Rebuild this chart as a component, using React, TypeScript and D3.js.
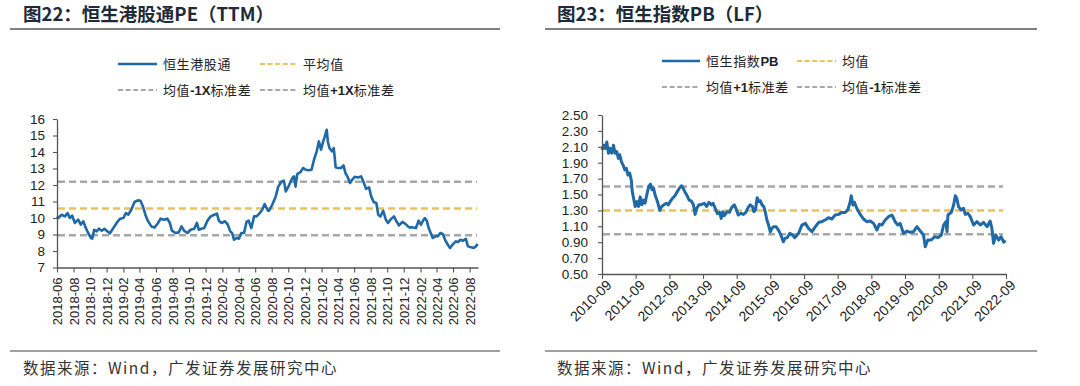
import { useEffect, useRef } from 'react'
import * as d3 from 'd3'

// 恒生港股通PE（TTM）
const peDates = [
  '2018-06-01', '2018-06-06', '2018-06-18', '2018-07-01', '2018-07-10', '2018-07-18', '2018-07-27', '2018-08-06',
  '2018-08-18', '2018-08-28', '2018-09-06', '2018-09-15', '2018-09-24', '2018-10-04', '2018-10-09', '2018-10-16',
  '2018-10-25', '2018-11-03', '2018-11-13', '2018-11-23', '2018-12-01', '2018-12-13', '2018-12-26', '2019-01-07',
  '2019-01-20', '2019-02-01', '2019-02-10', '2019-02-19', '2019-03-02', '2019-03-14', '2019-03-26', '2019-04-05',
  '2019-04-14', '2019-04-23', '2019-05-02', '2019-05-15', '2019-05-27', '2019-06-09', '2019-06-18', '2019-07-01',
  '2019-07-13', '2019-07-22', '2019-07-30', '2019-08-12', '2019-08-24', '2019-09-03', '2019-09-13', '2019-09-25',
  '2019-10-07', '2019-10-20', '2019-10-30', '2019-11-06', '2019-11-16', '2019-11-26', '2019-12-08', '2019-12-20',
  '2020-01-02', '2020-01-12', '2020-01-19', '2020-01-29', '2020-02-11', '2020-02-21', '2020-03-01', '2020-03-08',
  '2020-03-15', '2020-03-24', '2020-04-02', '2020-04-11', '2020-04-21', '2020-04-30', '2020-05-08', '2020-05-18',
  '2020-05-28', '2020-06-06', '2020-06-18', '2020-06-27', '2020-07-06', '2020-07-18', '2020-07-22', '2020-08-03',
  '2020-08-16', '2020-08-25', '2020-09-06', '2020-09-15', '2020-09-22', '2020-10-04', '2020-10-16', '2020-10-22',
  '2020-10-28', '2020-11-03', '2020-11-15', '2020-11-25', '2020-12-04', '2020-12-17', '2020-12-26', '2021-01-04',
  '2021-01-14', '2021-01-22', '2021-01-30', '2021-02-07', '2021-02-13', '2021-02-20', '2021-02-24', '2021-03-02',
  '2021-03-11', '2021-03-18', '2021-03-25', '2021-04-02', '2021-04-14', '2021-04-23', '2021-04-30', '2021-05-09',
  '2021-05-17', '2021-05-25', '2021-06-03', '2021-06-15', '2021-06-27', '2021-07-05', '2021-07-15', '2021-07-26',
  '2021-08-03', '2021-08-12', '2021-08-22', '2021-08-29', '2021-09-06', '2021-09-16', '2021-09-26', '2021-10-04',
  '2021-10-13', '2021-10-26', '2021-11-04', '2021-11-14', '2021-11-26', '2021-12-08', '2021-12-21', '2022-01-03',
  '2022-01-15', '2022-01-25', '2022-02-02', '2022-02-09', '2022-02-17', '2022-02-24', '2022-03-03', '2022-03-12',
  '2022-03-18', '2022-03-29', '2022-04-06', '2022-04-15', '2022-04-24', '2022-05-04', '2022-05-13', '2022-05-21',
  '2022-06-01', '2022-06-11', '2022-06-19', '2022-06-28', '2022-07-08', '2022-07-18', '2022-07-26', '2022-08-07',
  '2022-08-16', '2022-08-24', '2022-08-31',
]
const peValues = [
  10.1, 10.0, 10.2, 10.1, 10.3, 10.0, 10.14, 9.7,
  9.9, 9.6, 9.8, 9.4, 9.09, 8.8, 8.75, 9.29,
  9.19, 9.35, 9.23, 9.35, 9.23, 9.07, 9.39, 9.7,
  9.96, 10.0, 10.3, 10.2, 10.5, 10.97, 11.07, 11.05,
  10.7, 10.2, 9.84, 9.49, 9.43, 9.7, 9.96, 9.9,
  9.96, 9.7, 9.23, 9.09, 9.13, 9.49, 9.23, 9.09,
  9.29, 9.35, 9.7, 9.29, 9.35, 9.39, 9.84, 10.1,
  10.2, 10.26, 9.84, 9.7, 9.8, 9.6, 9.19, 9.09,
  8.68, 8.79, 8.75, 9.09, 9.09, 9.76, 9.84, 9.39,
  10.1, 10.1, 10.3, 10.5, 10.85, 10.44, 10.44, 10.8,
  11.31, 11.9, 12.2, 12.26, 11.61, 11.98, 12.42, 12.52,
  11.9, 12.66, 12.78, 13.03, 12.93, 12.89, 12.93, 13.53,
  14.04, 14.64, 14.14, 14.64, 14.95, 15.35, 14.64, 14.24,
  14.04, 14.24, 13.07, 13.03, 13.03, 13.19, 12.72, 12.46,
  12.12, 12.32, 12.5, 12.46, 12.52, 12.22, 11.77, 11.86,
  11.31, 10.97, 10.91, 10.2, 10.1, 10.44, 9.9, 9.7,
  9.9, 10.1, 9.8, 9.55, 9.76, 9.63, 9.43, 9.43,
  9.39, 9.84, 9.59, 9.8, 10.0, 9.84, 9.39, 9.03,
  8.79, 8.89, 8.89, 9.09, 9.03, 8.62, 8.38, 8.18,
  8.42, 8.58, 8.54, 8.68, 8.62, 8.74, 8.28, 8.22,
  8.18, 8.28, 8.42,
]
const peYTicks = [7, 8, 9, 10, 11, 12, 13, 14, 15, 16]
const peXTicks = [
  '2018-06', '2018-08', '2018-10', '2018-12', '2019-02', '2019-04', '2019-06', '2019-08', '2019-10',
  '2019-12', '2020-02', '2020-04', '2020-06', '2020-08', '2020-10', '2020-12', '2021-02', '2021-04',
  '2021-06', '2021-08', '2021-10', '2021-12', '2022-02', '2022-04', '2022-06', '2022-08',
]
const peMean = 10.58
const peUpper = 12.2
const peLower = 8.96

// 恒生指数PB（LF）
const pbDates = [
  '2010-09-01', '2010-09-18', '2010-10-06', '2010-10-23', '2010-11-10', '2010-11-28', '2010-12-16', '2011-01-03',
  '2011-01-21', '2011-02-08', '2011-02-26', '2011-03-13', '2011-03-31', '2011-04-18', '2011-05-06', '2011-05-23',
  '2011-06-10', '2011-06-28', '2011-07-16', '2011-07-26', '2011-08-10', '2011-08-27', '2011-09-15', '2011-10-02',
  '2011-10-20', '2011-11-07', '2011-11-25', '2011-12-12', '2011-12-30', '2012-01-21', '2012-02-08', '2012-02-26',
  '2012-03-13', '2012-03-31', '2012-04-25', '2012-05-20', '2012-06-10', '2012-07-05', '2012-07-30', '2012-08-21',
  '2012-09-15', '2012-10-10', '2012-10-31', '2012-11-25', '2012-12-19', '2013-01-10', '2013-01-24', '2013-02-15',
  '2013-03-10', '2013-04-04', '2013-04-25', '2013-05-20', '2013-06-07', '2013-06-25', '2013-07-19', '2013-08-17',
  '2013-09-15', '2013-10-09', '2013-11-04', '2013-12-02', '2013-12-19', '2014-01-14', '2014-02-04', '2014-03-01',
  '2014-03-17', '2014-04-04', '2014-04-21', '2014-05-20', '2014-06-14', '2014-07-08', '2014-08-06', '2014-08-24',
  '2014-09-18', '2014-10-16', '2014-11-14', '2014-12-09', '2015-01-03', '2015-01-24', '2015-02-18', '2015-03-06',
  '2015-03-24', '2015-04-11', '2015-04-29', '2015-05-16', '2015-06-03', '2015-06-21', '2015-07-08', '2015-07-26',
  '2015-08-13', '2015-09-01', '2015-09-18', '2015-10-05', '2015-11-03', '2015-11-28', '2015-12-22', '2016-01-20',
  '2016-02-07', '2016-03-02', '2016-03-31', '2016-04-28', '2016-05-23', '2016-06-17', '2016-07-04', '2016-08-09',
  '2016-09-15', '2016-10-20', '2016-11-26', '2017-01-02', '2017-02-07', '2017-03-13', '2017-04-18', '2017-05-24',
  '2017-06-29', '2017-08-05', '2017-09-11', '2017-10-16', '2017-11-22', '2017-12-20', '2018-01-15', '2018-01-26',
  '2018-02-14', '2018-03-02', '2018-03-27', '2018-05-03', '2018-06-08', '2018-07-14', '2018-08-20', '2018-09-25',
  '2018-11-01', '2018-11-26', '2018-12-25', '2019-01-30', '2019-03-06', '2019-04-12', '2019-05-17', '2019-06-16',
  '2019-07-10', '2019-08-16', '2019-09-22', '2019-10-27', '2019-12-03', '2020-01-09', '2020-02-14', '2020-03-20',
  '2020-04-08', '2020-05-06', '2020-06-12', '2020-07-18', '2020-08-24', '2020-09-29', '2020-10-24', '2020-11-19',
  '2020-11-30', '2020-12-10', '2021-01-16', '2021-02-10', '2021-02-28', '2021-03-16', '2021-04-04', '2021-05-02',
  '2021-05-28', '2021-06-16', '2021-07-14', '2021-08-09', '2021-09-15', '2021-10-20', '2021-11-26', '2022-01-01',
  '2022-02-07', '2022-03-13', '2022-04-01', '2022-04-19', '2022-05-13', '2022-06-13', '2022-07-10', '2022-08-07',
  '2022-08-28',
]
const pbValues = [
  2.06, 2.12, 2.08, 2.16, 2.02, 2.08, 2.02, 2.12,
  2.02, 2.04, 1.955, 2.0, 1.91, 1.87, 1.81, 1.83,
  1.745, 1.77, 1.68, 1.54, 1.45, 1.35, 1.41, 1.35,
  1.47, 1.37, 1.43, 1.39, 1.49, 1.6, 1.63, 1.56,
  1.58, 1.49, 1.41, 1.3, 1.35, 1.37, 1.39, 1.37,
  1.42, 1.46, 1.485, 1.535, 1.58, 1.61, 1.59, 1.535,
  1.49, 1.43, 1.42, 1.37, 1.25, 1.325, 1.37, 1.375,
  1.39, 1.35, 1.4, 1.37, 1.39, 1.32, 1.26, 1.275,
  1.2, 1.284, 1.233, 1.284, 1.275, 1.335, 1.37, 1.325,
  1.242, 1.263, 1.25, 1.275, 1.335, 1.37, 1.35, 1.284,
  1.305, 1.46, 1.41, 1.42, 1.37, 1.35, 1.284, 1.18,
  1.116, 1.03, 1.074, 1.095, 1.095, 1.053, 0.999, 0.906,
  0.948, 0.957, 1.011, 0.99, 0.957, 0.99, 1.011, 1.116,
  1.137, 1.074, 1.032, 1.095, 1.15, 1.158, 1.179, 1.208,
  1.192, 1.242, 1.25, 1.275, 1.275, 1.305, 1.41, 1.485,
  1.367, 1.401, 1.326, 1.25, 1.192, 1.158, 1.166, 1.137,
  1.053, 1.124, 1.116, 1.179, 1.221, 1.242, 1.158, 1.116,
  1.137, 1.011, 1.04, 1.024, 1.032, 1.095, 1.04, 0.99,
  0.843, 0.927, 0.927, 0.969, 0.957, 0.99, 1.116, 1.158,
  1.032, 1.242, 1.275, 1.368, 1.485, 1.452, 1.347, 1.305,
  1.326, 1.25, 1.263, 1.221, 1.116, 1.158, 1.116, 1.15,
  1.095, 1.166, 1.074, 0.885, 0.99, 0.927, 0.969, 0.9,
  0.92,
]
const pbYTicks = [0.5, 0.7, 0.9, 1.1, 1.3, 1.5, 1.7, 1.9, 2.1, 2.3, 2.5]
const pbXTicks = [
  '2010-09', '2011-09', '2012-09', '2013-09', '2014-09', '2015-09', '2016-09',
  '2017-09', '2018-09', '2019-09', '2020-09', '2021-09', '2022-09',
]
const pbMean = 1.3
const pbUpper = 1.6
const pbLower = 1.0

const BLUE = '#1f69a6'
const GOLD = '#e8c25c'
const GREY = '#a8a8a8'
const CJK = '"Noto Sans CJK SC", sans-serif'
const LATIN = '"Liberation Sans", Arial, sans-serif'

const parseDay = d3.timeParse('%Y-%m-%d')
const parseMonth = d3.timeParse('%Y-%m')

function drawPanel(svg, cfg) {
  const g = svg.append('g')

  // title and rules
  g.append('text')
    .attr('x', cfg.titleX).attr('y', 21)
    .attr('font-family', CJK).attr('font-weight', 700).attr('font-size', 18.5)
    .attr('fill', '#1e2a38')
    .text(cfg.title)
  g.append('line')
    .attr('x1', cfg.ruleX0).attr('x2', cfg.ruleX1).attr('y1', 29).attr('y2', 29)
    .attr('stroke', '#808080').attr('stroke-width', 2)
  g.append('line')
    .attr('x1', cfg.ruleX0).attr('x2', cfg.ruleX1).attr('y1', 351).attr('y2', 351)
    .attr('stroke', '#808080').attr('stroke-width', 1.5)
  g.append('text')
    .attr('x', cfg.titleX).attr('y', 374)
    .attr('font-family', CJK).attr('font-size', 15.5).attr('letter-spacing', 1.5)
    .attr('fill', '#333')
    .text('数据来源：Wind，广发证券发展研究中心')

  // legend
  cfg.legend.forEach(item => {
    const sample = g.append('line')
      .attr('x1', item.x).attr('x2', item.x + item.w)
      .attr('y1', item.y).attr('y2', item.y)
      .attr('stroke', item.color).attr('stroke-width', item.dashed ? 2 : 2.5)
    if (item.dashed) sample.attr('stroke-dasharray', '5,2.6')
    const t = g.append('text')
      .attr('x', item.x + item.w + 6).attr('y', item.y + 4.5)
      .attr('font-size', 13).attr('fill', '#222')
    item.parts.forEach(p => {
      t.append('tspan')
        .attr('font-family', p[1] ? LATIN : CJK)
        .attr('font-weight', p[1] ? 700 : 400)
        .attr('letter-spacing', p[1] ? 0 : 0.6)
        .text(p[0])
    })
  })

  const x = d3.scaleTime().domain(cfg.xDomain).range([cfg.x0, cfg.x1])
  const y = d3.scaleLinear().domain(cfg.yDomain).range([cfg.yBottom, cfg.yTop])

  // reference lines
  const refs = [
    { v: cfg.upper, c: GREY },
    { v: cfg.lower, c: GREY },
    { v: cfg.mean, c: GOLD },
  ]
  refs.forEach(r => {
    g.append('line')
      .attr('x1', cfg.x0 + 1).attr('x2', cfg.refEnd)
      .attr('y1', y(r.v)).attr('y2', y(r.v))
      .attr('stroke', r.c).attr('stroke-width', 2.5)
      .attr('stroke-dasharray', '7,4')
  })

  // series
  const pts = cfg.dates.map((d, i) => [parseDay(d), cfg.values[i]])
  const line = d3.line()
    .x(d => x(d[0]))
    .y(d => y(d[1]))
  g.append('path')
    .attr('d', line(pts))
    .attr('fill', 'none')
    .attr('stroke', BLUE)
    .attr('stroke-width', cfg.lineWidth)
    .attr('stroke-linejoin', 'round')

  // axes
  const yAxis = d3.axisLeft(y)
    .tickValues(cfg.yTicks)
    .tickSize(4)
    .tickSizeOuter(0)
    .tickFormat(cfg.yFormat)
  const ya = g.append('g')
    .attr('transform', `translate(${cfg.x0},0)`)
    .call(yAxis)
  ya.selectAll('text')
    .attr('font-family', LATIN).attr('font-size', 13.5).attr('fill', '#222')
    .attr('x', -cfg.yLabelGap)

  const xAxis = d3.axisBottom(x)
    .tickValues(cfg.xTicks.map(m => parseMonth(m)))
    .tickSize(5)
    .tickSizeOuter(0)
    .tickFormat(d3.timeFormat('%Y-%m'))
  const xa = g.append('g')
    .attr('transform', `translate(0,${cfg.yBottom})`)
    .call(xAxis)
  const xt = xa.selectAll('text')
    .attr('font-family', LATIN).attr('font-size', cfg.xFont).attr('fill', '#222')
    .attr('text-anchor', 'end')
  if (cfg.rotate === -90) {
    xt.attr('transform', 'rotate(-90)').attr('x', -10).attr('y', 0).attr('dy', '0.35em')
  } else {
    xt.attr('transform', 'translate(4,6) rotate(-45)').attr('x', 0).attr('y', 0).attr('dy', '0.6em')
  }

  ;[ya, xa].forEach(a => {
    a.select('.domain').attr('stroke', '#555').attr('stroke-width', 1.3)
    a.selectAll('.tick line').attr('stroke', '#555').attr('stroke-width', 1.1)
  })
}

export default function App() {
  const ref = useRef(null)

  useEffect(() => {
    const root = ref.current
    d3.select(root).selectAll('*').remove()
    const svg = d3.select(root)

    drawPanel(svg, {
      title: '图22：恒生港股通PE（TTM）',
      titleX: 23, ruleX0: 10, ruleX1: 500,
      legend: [
        { x: 118, y: 64, w: 39, color: BLUE, dashed: false, parts: [['恒生港股通', false]] },
        { x: 260, y: 64, w: 37, color: GOLD, dashed: true, parts: [['平均值', false]] },
        { x: 118, y: 90, w: 39, color: GREY, dashed: true, parts: [['均值', false], ['-1X', true], ['标准差', false]] },
        { x: 260, y: 90, w: 37, color: GREY, dashed: true, parts: [['均值', false], ['+1X', true], ['标准差', false]] },
      ],
      dates: peDates, values: peValues,
      xDomain: [parseDay('2018-06-01'), parseDay('2022-09-01')],
      yDomain: [7, 16],
      x0: 57, x1: 478, yTop: 119, yBottom: 267.5, refEnd: 477,
      yTicks: peYTicks, yFormat: d3.format('d'), yLabelGap: 12,
      xTicks: peXTicks, xFont: 13, rotate: -90,
      mean: peMean, upper: peUpper, lower: peLower,
      lineWidth: 2.6,
    })

    drawPanel(svg, {
      title: '图23：恒生指数PB（LF）',
      titleX: 557, ruleX0: 545, ruleX1: 1037,
      legend: [
        { x: 662, y: 61, w: 38, color: BLUE, dashed: false, parts: [['恒生指数', false], ['PB', true]] },
        { x: 797, y: 61, w: 39, color: GOLD, dashed: true, parts: [['均值', false]] },
        { x: 662, y: 87, w: 38, color: GREY, dashed: true, parts: [['均值', false], ['+1', true], ['标准差', false]] },
        { x: 797, y: 87, w: 39, color: GREY, dashed: true, parts: [['均值', false], ['-1', true], ['标准差', false]] },
      ],
      dates: pbDates, values: pbValues,
      xDomain: [parseDay('2010-09-01'), parseDay('2022-09-01')],
      yDomain: [0.5, 2.5],
      x0: 602, x1: 1006, yTop: 115, yBottom: 274, refEnd: 1003,
      yTicks: pbYTicks, yFormat: d3.format('.2f'), yLabelGap: 14,
      xTicks: pbXTicks, xFont: 14, rotate: -45,
      mean: pbMean, upper: pbUpper, lower: pbLower,
      lineWidth: 3,
    })
  }, [])

  return (
    <svg
      ref={ref}
      width={1080}
      height={386}
      style={{ position: 'absolute', left: 0, top: 0, background: '#fff' }}
    />
  )
}
